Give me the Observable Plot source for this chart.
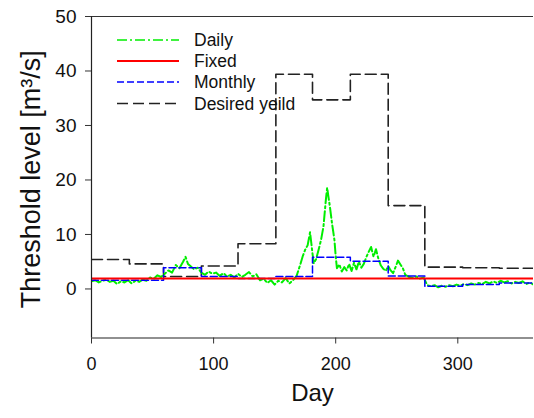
<!DOCTYPE html>
<html>
<head>
<meta charset="utf-8">
<script src="https://cdn.jsdelivr.net/npm/d3@7"></script>
<script src="https://cdn.jsdelivr.net/npm/@observablehq/plot@0.6"></script>
<style>
  html, body { margin: 0; padding: 0; background: #fff; }
  #wrap { position: relative; width: 534px; height: 418px; font-family: "Liberation Sans", Arial, sans-serif; }
  #legend { position: absolute; left: 0; top: 0; pointer-events: none; }
</style>
</head>
<body>
<div id="wrap"></div>
<script>
// ---- data ----
const monthStarts = [0, 31, 59, 90, 120, 151, 181, 212, 243, 273, 304, 334, 365];
const monthlyValues = [1.6, 1.6, 3.9, 2.3, 1.9, 2.3, 5.8, 5.1, 2.4, 0.5, 0.8, 1.1];
const desiredValues = [5.4, 4.6, 2.3, 4.2, 8.3, 39.4, 34.7, 39.4, 15.3, 4.0, 3.9, 3.8];
const fixedValue = 1.9;
const dailyDays = [0,3,6,9,12,15,18,21,24,27,30,33,36,39,42,45,48,51,54,57,60,63,66,69,72,75,77,79,81,84,87,90,93,96,99,102,105,108,111,114,117,120,123,126,129,132,135,138,141,144,147,150,153,156,159,162,165,168,171,173,175,177,179,181,182,184,186,188,190,191,192,193,194,195,196,197,198,199,200,201,203,205,207,209,211,213,215,217,219,221,223,225,227,229,231,233,235,237,239,241,243,245,247,249,251,253,255,257,260,263,266,269,272,275,278,281,284,287,290,293,296,299,302,305,308,311,314,317,320,323,326,329,332,335,338,341,344,347,350,353,356,359,362,365];
const dailyValues = [1.4,1.6,1.2,1.5,1.7,1.3,1.5,0.9,1.4,1.2,1.6,1.0,1.5,1.3,1.7,1.5,2.1,1.9,2.5,2.2,2.8,3.4,3.0,4.4,3.8,5.0,5.9,4.6,4.2,3.6,3.9,3.0,2.6,3.2,2.8,3.0,2.4,2.9,2.3,2.6,2.1,2.8,2.2,2.6,3.1,2.3,2.7,1.6,1.9,1.1,1.6,0.8,1.5,1.2,2.0,1.0,1.6,2.4,4.5,6.0,7.2,8.0,10.4,6.5,4.7,5.5,7.2,9.0,11.5,14.0,16.5,18.6,17.0,15.5,13.8,12.0,10.5,8.9,6.0,3.8,4.5,3.2,4.0,3.4,4.6,3.3,4.8,3.6,5.0,3.9,4.6,5.8,6.8,7.7,5.9,7.3,5.5,4.3,3.7,3.3,4.2,3.4,2.9,4.0,5.2,4.5,3.8,2.6,2.2,2.0,2.3,1.9,2.1,0.7,0.5,0.7,0.3,0.6,0.4,0.7,0.5,0.8,0.6,0.9,0.7,1.0,0.8,1.1,0.9,1.3,1.0,1.4,1.1,1.5,1.2,1.4,1.0,1.3,1.1,1.4,0.9,1.2,0.8,1.0];
const xTicks = [0, 100, 200, 300];
const yTicks = [0, 10, 20, 30, 40, 50];
const xDomain = [0, 362];
const yDomain = [-9, 50];
const seriesNames = ["Daily", "Fixed", "Monthly", "Desired yeild"];
const seriesColors = ["#00ee00", "#ff0000", "#0000ff", "#222222"];
const seriesDash = ["10,3,2,3", null, "7,3", "11,5"];

// ---- tables built from arrays ----
const stepTable = (vals) => monthStarts.map((d, i) => ({day: d, value: vals[Math.min(i, vals.length - 1)]}));
const monthly = stepTable(monthlyValues);
const desired = stepTable(desiredValues);
const daily = dailyDays.map((d, i) => ({day: d, value: dailyValues[i]}));

const chart = Plot.plot({
  width: 534,
  height: 418,
  marginLeft: 91,
  marginRight: 1,
  marginTop: 16,
  marginBottom: 80.5,
  style: {fontFamily: "'Liberation Sans', Arial, sans-serif", color: "#111", background: "#fff"},
  x: {domain: xDomain},
  y: {domain: yDomain},
  marks: [
    Plot.line(desired, {x: "day", y: "value", curve: "step-after", stroke: seriesColors[3], strokeWidth: 1.6, strokeDasharray: seriesDash[3], clip: true}),
    Plot.line(daily, {x: "day", y: "value", stroke: seriesColors[0], strokeWidth: 2, strokeDasharray: seriesDash[0], clip: true}),
    Plot.line(monthly, {x: "day", y: "value", curve: "step-after", stroke: seriesColors[2], strokeWidth: 1.5, strokeDasharray: seriesDash[2], clip: true}),
    Plot.ruleY([fixedValue], {stroke: seriesColors[1], strokeWidth: 2}),
    Plot.ruleY([yDomain[1]], {stroke: "#333", strokeWidth: 1.2}),
    Plot.ruleY([yDomain[0]], {stroke: "#222", strokeWidth: 1.2}),
    Plot.ruleX([xDomain[0]], {stroke: "#222", strokeWidth: 1.2}),
    Plot.axisX({ticks: xTicks, tickSize: 6, tickPadding: 13, fontSize: 18, label: null, stroke: "#333"}),
    Plot.axisY({ticks: yTicks, tickSize: 6, tickPadding: 9, fontSize: 19, label: null, stroke: "#333"}),
    Plot.text(["Threshold level [m³/s]"], {frameAnchor: "left", textAnchor: "middle", rotate: -90, dx: -60, dy: 2, fontSize: 27, fill: "#111"}),
    Plot.text(["Day"], {frameAnchor: "bottom", textAnchor: "middle", dy: 63, fontSize: 24, fill: "#111"})
  ]
});
document.getElementById("wrap").appendChild(chart);

// ---- legend ----
const ns = "http://www.w3.org/2000/svg";
const leg = document.createElementNS(ns, "svg");
leg.setAttribute("id", "legend");
leg.setAttribute("width", "534");
leg.setAttribute("height", "120");
const rowY = [40, 61, 82, 103.5];
seriesNames.forEach((name, i) => {
  const ln = document.createElementNS(ns, "line");
  ln.setAttribute("x1", 117); ln.setAttribute("x2", 179);
  ln.setAttribute("y1", rowY[i]); ln.setAttribute("y2", rowY[i]);
  ln.setAttribute("stroke", seriesColors[i]);
  ln.setAttribute("stroke-width", i === 1 ? 2 : 1.6);
  if (seriesDash[i]) ln.setAttribute("stroke-dasharray", seriesDash[i]);
  leg.appendChild(ln);
  const t = document.createElementNS(ns, "text");
  t.setAttribute("x", 194);
  t.setAttribute("y", rowY[i] + 6);
  t.setAttribute("font-size", "17.5");
  t.setAttribute("font-family", "'Liberation Sans', Arial, sans-serif");
  t.setAttribute("fill", "#111");
  t.textContent = name;
  leg.appendChild(t);
});
document.getElementById("wrap").appendChild(leg);
</script>
</body>
</html>
